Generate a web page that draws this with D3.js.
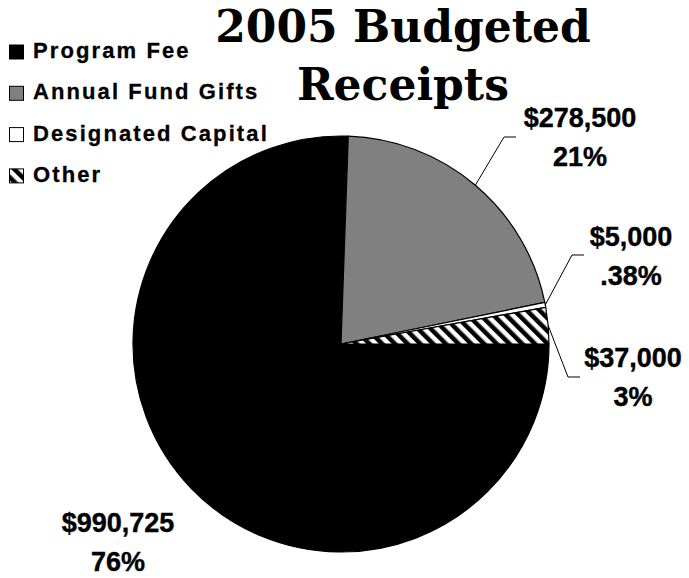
<!DOCTYPE html>
<html>
<head>
<meta charset="utf-8">
<script src="https://cdn.jsdelivr.net/npm/d3@7"></script>
<style>
  body { margin: 0; background: white; }
  text { font-family: "Liberation Sans", Arial, sans-serif; font-weight: bold; }
</style>
</head>
<body>
<div id="container"></div>
<script>
// 2005 Budgeted Receipts pie

const width = 689;
const height = 578;

const categories = ["Program Fee", "Annual Fund Gifts", "Designated Capital", "Other"];
const amounts = [990725, 278500, 5000, 37000];
const amountLabels = ["$990,725", "$278,500", "$5,000", "$37,000"];
const percentLabels = ["76%", "21%", ".38%", "3%"];

const cx = 341, cy = 344, radius = 208;

// where each label sits (baseline of first line) and the elbow of its leader line
const labelLayout = [
    { x: 118, y: 532, elbow: null },
    { x: 580, y: 127, elbow: [504, 137, 516] },
    { x: 631, y: 246, elbow: [572, 255, 584] },
    { x: 633, y: 367, elbow: [568, 377, 580] }
];

const svg = d3.select("#container")
    .append("svg")
    .attr("width", width)
    .attr("height", height)
    .style("background-color", "white");

const defs = svg.append("defs");
defs.append("pattern")
    .attr("id", "hatch")
    .attr("patternUnits", "userSpaceOnUse")
    .attr("width", 9)
    .attr("height", 9)
    .attr("patternTransform", "rotate(-45)")
    .call(p => {
        p.append("rect").attr("width", 9).attr("height", 9).attr("fill", "white");
        p.append("rect").attr("width", 4.5).attr("height", 9).attr("fill", "black");
    });

const fills = d3.scaleOrdinal()
    .domain(categories)
    .range(["black", "#808080", "white", "url(#hatch)"]);

const pie = d3.pie()
    .sort(null)
    .value(d => d.value)
    .startAngle(Math.PI / 2)
    .endAngle(Math.PI / 2 + 2 * Math.PI);

const data = categories.map((c, i) => ({ name: c, value: amounts[i], amt: amountLabels[i], pct: percentLabels[i] }));
const arcs = pie(data);

const arc = d3.arc().innerRadius(0).outerRadius(radius);

const g = svg.append("g").attr("transform", `translate(${cx},${cy})`);

g.selectAll("path")
    .data(arcs)
    .join("path")
    .attr("d", arc)
    .attr("fill", d => fills(d.data.name))
    .attr("stroke", "black")
    .attr("stroke-width", 1.2)
    .attr("stroke-linejoin", "round");

// leader lines
arcs.forEach((a, i) => {
    const L = labelLayout[i];
    if (!L.elbow) return;
    const mid = (a.startAngle + a.endAngle) / 2;
    const px = cx + radius * Math.sin(mid);
    const py = cy - radius * Math.cos(mid);
    svg.append("polyline")
        .attr("points", `${px},${py} ${L.elbow[0]},${L.elbow[1]} ${L.elbow[2]},${L.elbow[1]}`)
        .attr("fill", "none")
        .attr("stroke", "black")
        .attr("stroke-width", 1);
});

// data labels
arcs.forEach((a, i) => {
    const L = labelLayout[i];
    const t = svg.append("text")
        .attr("text-anchor", "middle")
        .style("font-size", "27px")
        .attr("fill", "black")
        .attr("stroke", "black")
        .attr("stroke-width", 0.4);
    t.append("tspan").attr("x", L.x).attr("y", L.y).text(a.data.amt);
    t.append("tspan").attr("x", L.x).attr("y", L.y + 39).text(a.data.pct);
});

// title
const title = svg.append("text")
    .attr("text-anchor", "middle")
    .style("font-family", "'DejaVu Serif', serif")
    .style("font-size", "44px")
    .style("font-weight", "bold");
title.append("tspan").attr("x", 403).attr("y", 42).text("2005 Budgeted");
title.append("tspan").attr("x", 403).attr("y", 100).text("Receipts");

// legend
const legend = svg.append("g").attr("transform", "translate(9, 43)");
categories.forEach((c, i) => {
    const row = legend.append("g").attr("transform", `translate(0, ${i * 41.3})`);
    row.append("rect")
        .attr("x", 0.5).attr("y", 2)
        .attr("width", 14).attr("height", 14)
        .attr("fill", fills(c))
        .attr("stroke", "black")
        .attr("stroke-width", 1);
    row.append("text")
        .attr("x", 24)
        .attr("y", 15)
        .style("font-size", "22px")
        .style("letter-spacing", "2.1px")
        .attr("stroke", "black")
        .attr("stroke-width", 0.3)
        .text(c);
});
</script>
</body>
</html>
